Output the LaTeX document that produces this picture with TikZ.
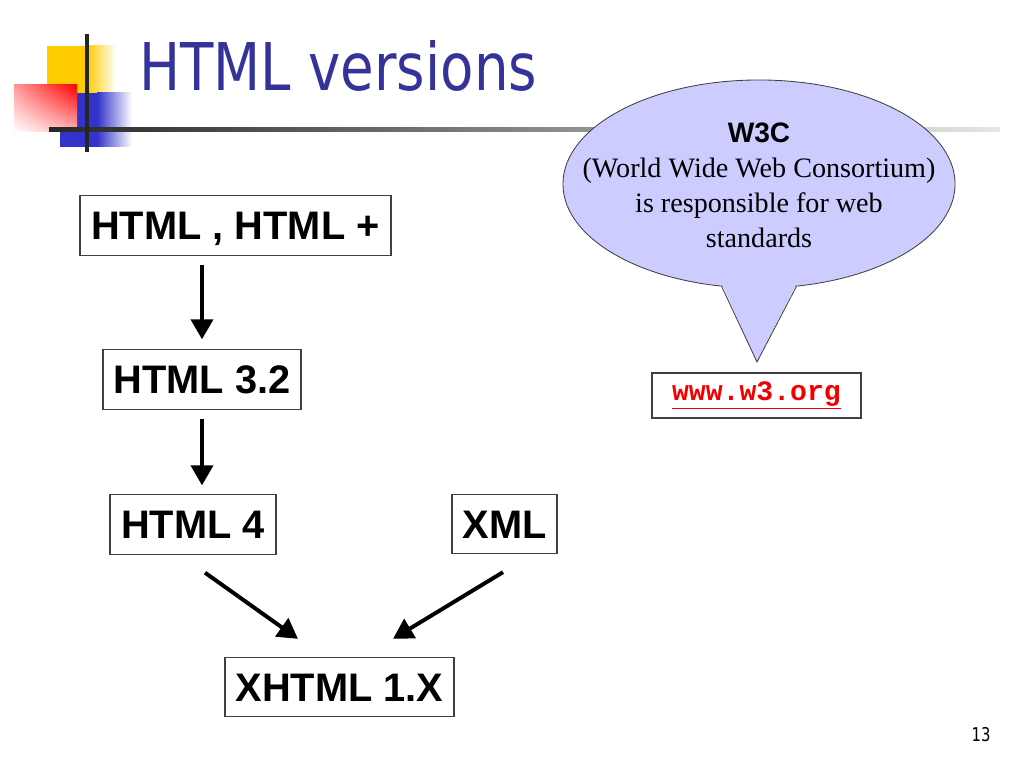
\documentclass[tikz,border=0pt]{standalone}
\usepackage{fontspec}
\usepackage{graphicx}
\usepackage{xcolor}
\setmainfont{Liberation Serif}
\newfontfamily\arialfont{Liberation Sans}
\newfontfamily\tahomafont{DejaVu Sans}
\newfontfamily\courfont{Liberation Mono}
\usetikzlibrary{arrows.meta, positioning, shapes.geometric, shadings}

\definecolor{titleblue}{RGB}{51,51,153}
\definecolor{bubble}{RGB}{204,204,255}
\definecolor{linkred}{RGB}{240,0,0}
\definecolor{sqyellow}{RGB}{255,204,0}
\definecolor{sqblue}{RGB}{51,51,204}
\definecolor{sqred}{RGB}{255,0,0}

\begin{document}
\begin{tikzpicture}[
    x=0.025cm, y=-0.025cm,
    box/.style={draw=black!75, line width=0.8pt, rectangle, inner sep=0pt, minimum height=1.48cm, font=\arialfont\bfseries\fontsize{28.3}{34}\selectfont, text height=20.3pt, text depth=0pt},
    flow/.style={line width=2.8pt, -{Triangle[length=0.5cm, width=0.55cm]}},
]
\useasboundingbox (0,0) rectangle (1024,768);

% logo squares and rules
\fill[sqyellow] (47,46) rectangle (87,93);
\shade[left color=sqyellow, right color=white] (87,46) rectangle (116,93);
\fill[sqblue] (60,93) rectangle (97,147);
\shade[left color=sqblue, right color=white] (97,93) rectangle (132,147);
\shade[upper left=sqred!40, upper right=sqred, lower left=white, lower right=sqred!30] (14,85) rectangle (77,132);
\shade[left color=black!85, right color=black!10] (49,128) rectangle (1000,132);
\fill[black!85] (85,34) rectangle (89,152);

\node[anchor=base west, inner sep=0pt, text=titleblue, font=\tahomafont\fontsize{46.8}{56}\selectfont] (title) at (139,91) {\scalebox{0.83}[1]{HTML versions}};

% version boxes
\node[box, minimum width=7.775cm] (html1) at (235.5,225.5) {HTML , HTML +};
\node[box, minimum width=4.95cm] (html32) at (202,379.5) {HTML 3.2};
\node[box, minimum width=4.15cm] (html4) at (193,524.5) {HTML 4};
\node[box, minimum width=2.625cm] (xml) at (504.5,524) {XML};
\node[box, minimum width=5.725cm] (xhtml) at (339.5,687) {XHTML 1.X};

\draw[flow, shorten <=0.225cm, shorten >=0.25cm] (html32.north |- html1.south) -- (html32.north);
\draw[flow, shorten <=0.225cm, shorten >=0.225cm] (html32.south) -- (html32.south |- html4.north);
\draw[flow] ([shift={(12,18)}]html4.south) -- ([shift={(-41.5,-18)}]xhtml.north);
\draw[flow] ([shift={(-1.5,18)}]xml.south) -- ([shift={(53.5,-18)}]xhtml.north);

% W3C callout
\node[ellipse, draw=black!75, line width=0.6pt, fill=bubble, minimum width=9.8cm, minimum height=5.2cm, inner sep=0pt] (w3c) at (759,184) {};
\coordinate (tip) at (757,362);
\fill[bubble] ([yshift=2pt]w3c.250) -- (tip) -- ([yshift=2pt]w3c.290) -- cycle;
\draw[black!75, line width=0.6pt] (w3c.250) -- (tip) -- (w3c.290);
\node[align=center, inner sep=0pt, font=\fontsize{20}{24.7}\selectfont] (w3ctext) at ([yshift=-1pt]w3c.center) {{\arialfont\bfseries W3C}\\(World Wide Web Consortium)\\is responsible for web\\standards};

\node[draw=black!75, line width=0.8pt, minimum width=5.225cm, minimum height=1.125cm, inner sep=0pt, text=linkred, font=\courfont\bfseries\fontsize{20}{24}\selectfont] (w3org) at (756.5,395.5) {\underline{www.w3.org}};

\node[anchor=base, inner sep=0pt, font=\tahomafont\fontsize{13.5}{16}\selectfont] (pagenum) at (981,741) {\scalebox{0.78}[1]{13}};
\end{tikzpicture}
\end{document}
